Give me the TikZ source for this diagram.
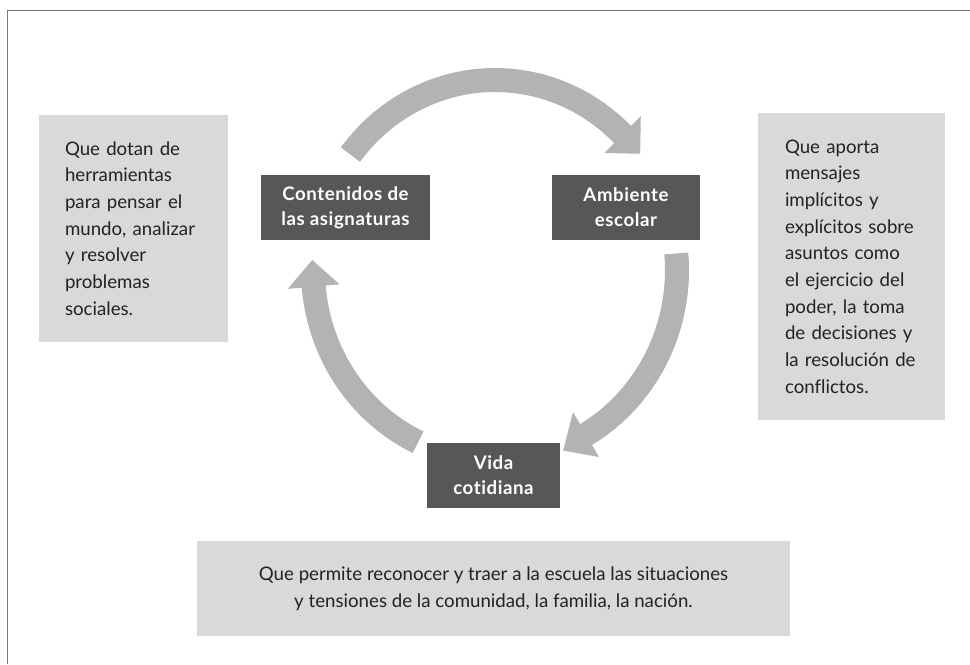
\documentclass[tikz,border=0pt]{standalone}
\usepackage{fontspec}
\setmainfont{Lato}[Ligatures={NoCommon}]
\definecolor{arrowgray}{HTML}{B3B3B3}
\definecolor{boxgray}{HTML}{D9D9D9}
\definecolor{darkbox}{HTML}{575757}
\definecolor{framegray}{HTML}{777777}
\definecolor{textdark}{HTML}{222222}
\begin{document}
\begin{tikzpicture}[x=0.75pt,y=-0.75pt,
  infobox/.style={fill=boxgray, inner sep=0pt, text=textdark,
    font=\fontsize{14}{20}\selectfont},
  keybox/.style={fill=darkbox, text=white, inner sep=0pt,
    minimum height={65*0.75pt}, align=center,
    font=\fontsize{14}{18.75}\selectfont\bfseries\addfontfeatures{LetterSpace=3}},
  cyc/.style={draw=arrowgray, line width={24*0.75pt}},
  cychead/.style={fill=arrowgray}
]
\useasboundingbox (0,0) rectangle (970,664);
\fill[white] (0,0) rectangle (970,664);
% frame
\draw[framegray, line width=1.4pt] (7.5,664) -- (7.5,10.5) -- (970,10.5);

% cycle arrows
\draw[cyc] plot[domain=142.6:44, samples=60, variable=\t]
  ({495+182*cos(\t)},{270-190*sin(\t)});
\fill[cychead] ({495+208*cos(45.5)},{270-216*sin(45.5)}) --
  ({495+156*cos(45.5)},{270-164*sin(45.5)}) --
  ({495+183*cos(37.5)},{270-191*sin(37.5)}) -- cycle;

\draw[cyc] plot[domain=5:-61, samples=60, variable=\t]
  ({495+182*cos(\t)},{270-190*sin(\t)});
\fill[cychead] ({495+208*cos(-60)},{270-216*sin(-60)}) --
  ({495+156*cos(-60)},{270-164*sin(-60)}) --
  ({495+186*cos(-68.5)},{270-194*sin(-68.5)}) -- cycle;

\draw[cyc] plot[domain=245:184, samples=60, variable=\t]
  ({495+182*cos(\t)},{270-190*sin(\t)});
\fill[cychead] ({495+208*cos(185)},{270-216*sin(185)}) --
  ({495+156*cos(185)},{270-164*sin(185)}) --
  ({495+183*cos(177)},{270-191*sin(177)}) -- cycle;

% key boxes
\node[keybox, minimum width={169*0.75pt}] (cont) at (345.5,207.5)
  {Contenidos de\\las asignaturas};
\node[keybox, minimum width={148*0.75pt}] (amb) at (626,207.5)
  {Ambiente\\escolar};
\node[keybox, minimum width={133*0.75pt}] (vida) at (493.5,475.5)
  {Vida\\cotidiana};

% info boxes
\node[infobox, align=left, text width={137*0.75pt},
  minimum width={189*0.75pt}, minimum height={227*0.75pt}] (left) at (133.5,228.5)
  {Que dotan de\\herramientas\\para pensar el\\mundo, analizar\\y resolver\\problemas\\sociales.};
\node[infobox, align=left, text width={133*0.75pt},
  minimum width={187*0.75pt}, minimum height={307*0.75pt}] (right) at (851.5,266.5)
  {Que aporta\\mensajes\\implícitos y\\explícitos sobre\\asuntos como\\el ejercicio del\\poder, la toma\\de decisiones y\\la resolución de\\conflictos.};
\node[infobox, align=center,
  minimum width={593*0.75pt}, minimum height={95*0.75pt}] (bottom) at (493.5,588.5)
  {Que permite reconocer y traer a la escuela las situaciones\\y tensiones de la comunidad, la familia, la nación.};
\end{tikzpicture}
\end{document}
